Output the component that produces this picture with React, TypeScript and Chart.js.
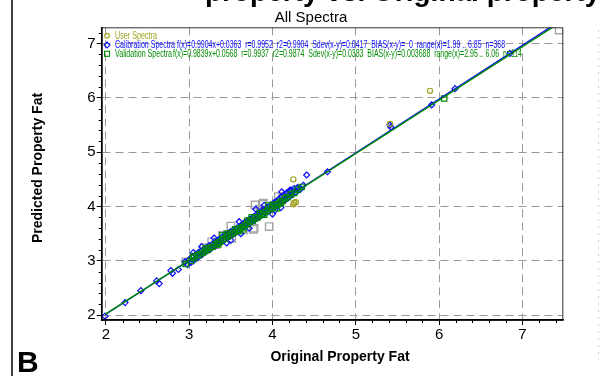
import React, { useEffect, useRef } from "react";
import { Chart, registerables } from "chart.js";

Chart.register(...registerables);

// ---------- data ----------
const calibration: number[][] = [
  [1.99, 1.98], [2.23, 2.23], [2.42, 2.45], [2.61, 2.63], [2.64, 2.58], [2.78, 2.82], [2.80, 2.77], [2.87, 2.84],
  [2.95, 2.98], [2.98, 2.93], [3.00, 3.02], [3.02, 2.97], [3.04, 3.08], [3.05, 3.00], [3.05, 3.15], [3.07, 3.04],
  [3.08, 3.12], [3.10, 3.06], [3.11, 3.15], [3.12, 3.09], [3.14, 3.18], [3.15, 3.11], [3.15, 3.26], [3.17, 3.14],
  [3.18, 3.22], [3.20, 3.17], [3.21, 3.25], [3.22, 3.19], [3.24, 3.28], [3.25, 3.21], [3.27, 3.24], [3.28, 3.31],
  [3.30, 3.27], [3.30, 3.42], [3.31, 3.35], [3.33, 3.29], [3.34, 3.37], [3.35, 3.32], [3.37, 3.41], [3.38, 3.34],
  [3.40, 3.44], [3.41, 3.38], [3.43, 3.40], [3.44, 3.48], [3.45, 3.33], [3.46, 3.42], [3.47, 3.50], [3.49, 3.45],
  [3.50, 3.54], [3.50, 3.38], [3.52, 3.48], [3.53, 3.56], [3.55, 3.51], [3.57, 3.60], [3.58, 3.55], [3.60, 3.63],
  [3.60, 3.72], [3.61, 3.58], [3.62, 3.50], [3.63, 3.66], [3.64, 3.61], [3.66, 3.70], [3.67, 3.63], [3.69, 3.72],
  [3.70, 3.67], [3.72, 3.76], [3.72, 3.60], [3.73, 3.70], [3.75, 3.78], [3.76, 3.73], [3.78, 3.82], [3.79, 3.76],
  [3.80, 3.95], [3.81, 3.85], [3.82, 3.79], [3.84, 3.87], [3.85, 3.82], [3.87, 3.92], [3.88, 3.85], [3.90, 3.94],
  [3.90, 4.02], [3.91, 3.88], [3.93, 3.97], [3.94, 3.90], [3.96, 4.00], [3.97, 3.94], [3.99, 4.03], [4.00, 3.97],
  [4.00, 3.86], [4.02, 4.07], [4.03, 4.00], [4.03, 3.93], [4.05, 4.10], [4.06, 4.03], [4.08, 4.14], [4.09, 4.05],
  [4.10, 3.98], [4.11, 4.18], [4.11, 4.27], [4.12, 4.08], [4.14, 4.22], [4.15, 4.12], [4.15, 4.13], [4.17, 4.25],
  [4.18, 4.15], [4.20, 4.28], [4.21, 4.19], [4.21, 4.30], [4.23, 4.30], [4.24, 4.22], [4.26, 4.33], [4.28, 4.26],
  [4.30, 4.35], [4.31, 4.33], [4.33, 4.31], [4.37, 4.39], [4.41, 4.58], [4.66, 4.64], [5.41, 5.50], [5.42, 5.46],
  [5.91, 5.87], [6.19, 6.17], [6.85, 6.82],
];

const validation: number[][] = [
  [2.96, 2.94], [3.02, 3.00], [3.05, 3.08], [3.06, 3.05], [3.10, 3.10], [3.13, 3.12], [3.16, 3.15], [3.19, 3.18],
  [3.20, 3.23], [3.22, 3.20], [3.25, 3.24], [3.28, 3.26], [3.31, 3.30], [3.34, 3.33], [3.35, 3.30], [3.37, 3.35],
  [3.40, 3.39], [3.40, 3.47], [3.43, 3.41], [3.45, 3.50], [3.46, 3.45], [3.49, 3.47], [3.52, 3.51], [3.55, 3.53],
  [3.55, 3.58], [3.58, 3.57], [3.60, 3.55], [3.61, 3.60], [3.64, 3.62], [3.65, 3.58], [3.67, 3.66], [3.70, 3.68],
  [3.70, 3.74], [3.73, 3.72], [3.75, 3.80], [3.76, 3.74], [3.79, 3.78], [3.82, 3.80], [3.85, 3.84], [3.85, 3.88],
  [3.88, 3.86], [3.90, 3.85], [3.91, 3.90], [3.94, 3.92], [3.95, 4.02], [3.97, 3.96], [4.00, 3.98], [4.00, 4.03],
  [4.03, 4.02], [4.05, 3.97], [4.06, 4.04], [4.09, 4.08], [4.10, 4.06], [4.12, 4.10], [4.15, 4.15], [4.18, 4.17],
  [4.22, 4.22], [4.26, 4.25], [4.30, 4.31], [4.35, 4.36], [6.06, 5.99],
];

const userSpectra: number[][] = [
  [4.25, 4.50], [4.26, 4.07], [4.28, 4.08], [4.25, 4.04], [5.41, 5.52], [5.89, 6.13],
];

const otherSpectra: number[][] = [
  [2.96, 2.98], [3.18, 3.24], [3.27, 3.35], [3.32, 3.30], [3.40, 3.47], [3.50, 3.64], [3.51, 3.41], [3.65, 3.57],
  [3.77, 3.58], [3.78, 3.60], [3.79, 4.03], [3.85, 3.95], [3.88, 4.04], [3.89, 4.06], [3.96, 3.63], [4.07, 4.18],
  [4.12, 4.15], [7.44, 7.25],
];

// regression lines (from the fitted equations in the legend)
const calibrationFit: number[][] = [[1.99, 2.0072], [7.49, 7.4544]];
const validationFit: number[][] = [[1.99, 2.0148], [7.49, 7.4262]];

const xTickValues = [2, 3, 4, 5, 6, 7];
const yTickValues = [2, 3, 4, 5, 6, 7];

const chartSubtitle = "All Spectra";
const cutTitle = "property vs. Original property";
const xTitle = "Original Property Fat";
const yTitle = "Predicted Property Fat";
const panelLetter = "B";

const legendUser = "User Spectra";
const legendCalLabel = "Calibration Spectra";
const legendCalStats =
  "f(x)=0.9904x+0.0363  r=0.9952  r2=0.9904  Sdev(x-y)=0.0417  BIAS(x-y)=  0  range(x)=1.99 .. 6.85  n=368";
const legendValLabel = "Validation Spectra";
const legendValStats =
  "f(x)=0.9839x+0.0568  r=0.9937  r2=0.9874  Sdev(x-y)=0.0383  BIAS(x-y)=0.003688  range(x)=2.95 .. 6.06  n=114";

// ---------- style ----------
const BLUE = "#0a0aff";
const GREEN = "#008a00";
const OLIVE = "#a0a020";
const GRAY = "#a6a6a6";
const FONT = "'Liberation Sans', Arial, Helvetica, sans-serif";

const toPts = (arr: number[][]) => arr.map(([x, y]) => ({ x, y }));

const decorPlugin = {
  id: "decor",
  beforeDraw(chart: any) {
    const ctx = chart.ctx;
    ctx.save();
    ctx.fillStyle = "#fff";
    ctx.fillRect(0, 0, chart.width, chart.height);
    ctx.restore();
  },
  afterDraw(chart: any) {
    const ctx: CanvasRenderingContext2D = chart.ctx;
    const { left, right, top, bottom } = chart.chartArea;
    const xs = chart.scales.x;
    const ys = chart.scales.y;
    ctx.save();
    ctx.setLineDash([]);

    // top / right frame
    ctx.strokeStyle = "#333";
    ctx.lineWidth = 1;
    ctx.beginPath();
    ctx.moveTo(left, top + 0.5);
    ctx.lineTo(right - 0.5, top + 0.5);
    ctx.lineTo(right - 0.5, bottom);
    ctx.stroke();

    // solid axis lines (left / bottom)
    ctx.strokeStyle = "#000";
    ctx.lineWidth = 1.5;
    ctx.beginPath();
    ctx.moveTo(left, top);
    ctx.lineTo(left, bottom);
    ctx.lineTo(right, bottom);
    ctx.stroke();

    // minor ticks
    ctx.lineWidth = 1;
    ctx.beginPath();
    for (let i = 10; i <= 37; i++) {
      if (i % 5 === 0) continue;
      const px = Math.round(xs.getPixelForValue(i / 5)) + 0.5;
      ctx.moveTo(px, bottom);
      ctx.lineTo(px, bottom + 3);
    }
    for (let i = 10; i <= 36; i++) {
      if (i % 5 === 0) continue;
      const py = Math.round(ys.getPixelForValue(i / 5)) + 0.5;
      ctx.moveTo(left, py);
      ctx.lineTo(left - 3, py);
    }
    ctx.stroke();

    // left border line of the figure
    ctx.lineWidth = 1.5;
    ctx.beginPath();
    ctx.moveTo(12, 0);
    ctx.lineTo(12, chart.height);
    ctx.stroke();

    // faint dotted line at far right
    ctx.strokeStyle = "#d0d0d0";
    ctx.lineWidth = 1;
    ctx.setLineDash([2, 5]);
    ctx.beginPath();
    ctx.moveTo(598.5, 30);
    ctx.lineTo(598.5, 360);
    ctx.stroke();
    ctx.setLineDash([]);

    // cut-off big title at the very top
    ctx.fillStyle = "#000";
    ctx.font = `bold 28px ${FONT}`;
    ctx.textAlign = "left";
    ctx.textBaseline = "alphabetic";
    ctx.fillText(cutTitle, 205, 1);

    // subtitle
    ctx.font = `15px ${FONT}`;
    ctx.textAlign = "center";
    ctx.textBaseline = "middle";
    ctx.fillText(chartSubtitle, 311, 18);

    // axis titles
    ctx.font = `bold 14px ${FONT}`;
    ctx.fillText(xTitle, 340, 357);
    ctx.save();
    ctx.translate(38, 168);
    ctx.rotate(-Math.PI / 2);
    ctx.fillText(yTitle, 0, 0);
    ctx.restore();

    // panel letter
    ctx.font = `bold 30px ${FONT}`;
    ctx.textAlign = "left";
    ctx.textBaseline = "alphabetic";
    ctx.fillText(panelLetter, 17, 372);

    // legend
    const mx = 107;
    const rows = [35.7, 45, 53.8];
    ctx.lineWidth = 1.1;
    ctx.strokeStyle = OLIVE;
    ctx.beginPath();
    ctx.arc(mx, rows[0], 2.3, 0, Math.PI * 2);
    ctx.stroke();
    ctx.strokeStyle = BLUE;
    ctx.beginPath();
    ctx.moveTo(mx, rows[1] - 3);
    ctx.lineTo(mx + 3, rows[1]);
    ctx.lineTo(mx, rows[1] + 3);
    ctx.lineTo(mx - 3, rows[1]);
    ctx.closePath();
    ctx.stroke();
    ctx.strokeStyle = GREEN;
    ctx.strokeRect(mx - 2.5, rows[2] - 2.5, 5, 5);

    ctx.font = `11px ${FONT}`;
    ctx.textAlign = "left";
    ctx.textBaseline = "middle";
    ctx.fillStyle = OLIVE;
    ctx.fillText(legendUser, 115, rows[0], 42);
    ctx.fillStyle = BLUE;
    ctx.fillText(legendCalLabel, 115, rows[1], 60);
    ctx.fillText(legendCalStats, 177, rows[1], 328);
    ctx.fillStyle = GREEN;
    ctx.fillText(legendValLabel, 115, rows[2], 57);
    ctx.fillText(legendValStats, 173, rows[2], 349);

    ctx.restore();
  },
};

export default function App() {
  const ref = useRef<HTMLCanvasElement | null>(null);

  useEffect(() => {
    if (!ref.current) return;
    const tickFont = { family: FONT, size: 15 };
    const gridOpts: any = {
      color: "#9a9a9a",
      lineWidth: 1,
      drawTicks: true,
      tickLength: 5,
      tickColor: "#000",
      tickBorderDash: [],
      tickWidth: 1,
    };
    const borderOpts: any = { color: "#000", width: 1.5, dash: [8, 5] };
    const chart = new Chart(ref.current, {
      type: "scatter",
      data: {
        datasets: [
          {
            type: "line",
            data: toPts(validationFit),
            borderColor: GREEN,
            borderWidth: 1.4,
            pointRadius: 0,
            fill: false,
          } as any,
          {
            type: "line",
            data: toPts(calibrationFit),
            borderColor: BLUE,
            borderWidth: 1.4,
            pointRadius: 0,
            fill: false,
          } as any,
          {
            data: toPts(userSpectra),
            pointStyle: "circle",
            pointRadius: 2.6,
            borderColor: OLIVE,
            backgroundColor: "rgba(0,0,0,0)",
            borderWidth: 1.2,
          },
          {
            data: toPts(validation),
            pointStyle: "rect",
            pointRadius: 3.8,
            borderColor: GREEN,
            backgroundColor: "rgba(0,0,0,0)",
            borderWidth: 1.2,
          },
          {
            data: toPts(calibration),
            pointStyle: "rectRot",
            pointRadius: 3,
            borderColor: BLUE,
            backgroundColor: "rgba(0,0,0,0)",
            borderWidth: 1.2,
          },
          {
            data: toPts(otherSpectra),
            pointStyle: "rect",
            pointRadius: 5.2,
            borderColor: GRAY,
            backgroundColor: "rgba(0,0,0,0)",
            borderWidth: 1.4,
          },
        ],
      },
      options: {
        animation: false,
        responsive: false,
        devicePixelRatio: 1,
        events: [],
        layout: { padding: { top: 27.3, right: 36.7, left: 0, bottom: 0 } },
        plugins: {
          legend: { display: false },
          title: { display: false },
          tooltip: { enabled: false },
        },
        scales: {
          x: {
            type: "linear",
            min: 1.95,
            max: 7.49,
            bounds: "data",
            afterBuildTicks: (s: any) => {
              s.ticks = xTickValues.map((v) => ({ value: v }));
            },
            afterFit: (s: any) => {
              s.height = 56;
            },
            ticks: {
              color: "#000",
              font: tickFont,
              padding: 1,
              maxRotation: 0,
              autoSkip: false,
              callback: (v: any) => String(v),
            },
            grid: gridOpts,
            border: borderOpts,
          },
          y: {
            type: "linear",
            min: 1.91,
            max: 7.3,
            bounds: "data",
            afterBuildTicks: (s: any) => {
              s.ticks = yTickValues.map((v) => ({ value: v }));
            },
            afterFit: (s: any) => {
              s.width = 101.7;
            },
            ticks: {
              color: "#000",
              font: tickFont,
              padding: 1,
              autoSkip: false,
              callback: (v: any) => String(v),
            },
            grid: gridOpts,
            border: borderOpts,
          },
        },
      } as any,
      plugins: [decorPlugin],
    });
    return () => chart.destroy();
  }, []);

  return (
    <div style={{ position: "fixed", left: 0, top: 0, width: 600, height: 376, background: "#fff" }}>
      <canvas ref={ref} width={600} height={376} style={{ display: "block" }} />
    </div>
  );
}
